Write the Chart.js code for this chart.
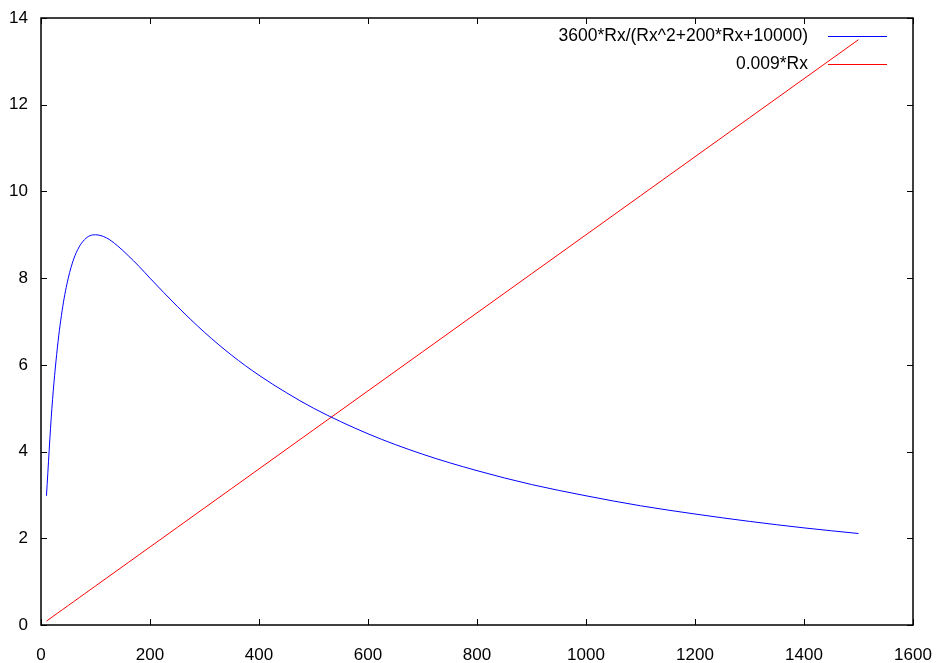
<!DOCTYPE html>
<html>
<head>
<meta charset="utf-8">
<script src="https://cdn.jsdelivr.net/npm/chart.js@4"></script>
<style>
  html, body { margin: 0; padding: 0; background: #fff; }
  #wrap { width: 938px; height: 663px; }
</style>
</head>
<body>
<div id="wrap"><canvas id="plot"></canvas></div>
<script>
// values
const rx = [10, 20, 30, 40, 50, 60, 70, 80, 90, 100, 120, 140, 160, 180, 200,
            250, 300, 350, 400, 450, 500, 600, 700, 800, 900, 1000, 1100, 1200, 1300, 1400, 1500];
const peakCurve = [2.98, 5.0, 6.39, 7.35, 8.0, 8.44, 8.72, 8.89, 8.98, 9.0, 8.93, 8.75, 8.52, 8.27, 8.0,
                   7.35, 6.75, 6.22, 5.76, 5.36, 5.0, 4.41, 3.94, 3.56, 3.24, 2.98, 2.75, 2.56, 2.39, 2.24, 2.11];
const lineCurve = [0.09, 0.18, 0.27, 0.36, 0.45, 0.54, 0.63, 0.72, 0.81, 0.9, 1.08, 1.26, 1.44, 1.62, 1.8,
                   2.25, 2.7, 3.15, 3.6, 4.05, 4.5, 5.4, 6.3, 7.2, 8.1, 9.0, 9.9, 10.8, 11.7, 12.6, 13.5];
const seriesNames = ['3600*Rx/(Rx^2+200*Rx+10000)', '0.009*Rx'];
const seriesColors = ['#0000ff', '#ff0000'];
const xTicks = [0, 200, 400, 600, 800, 1000, 1200, 1400, 1600];
const yTicks = [0, 2, 4, 6, 8, 10, 12, 14];

const font = '"Liberation Sans", Arial, Helvetica, sans-serif';

const pts = (ys) => rx.map((x, i) => ({ x: x, y: ys[i] }));

// gnuplot-style frame with inward ticks on all sides plus the key
const framePlugin = {
  id: 'frame',
  afterDraw(chart) {
    const ctx = chart.ctx;
    const a = chart.chartArea;
    const xs = chart.scales.x, ys = chart.scales.y;
    ctx.save();
    ctx.strokeStyle = '#000';
    ctx.lineWidth = 1.5;
    ctx.strokeRect(a.left, a.top, a.right - a.left, a.bottom - a.top);
    ctx.lineWidth = 1;
    ctx.beginPath();
    xTicks.forEach(v => {
      const p = Math.round(xs.getPixelForValue(v)) + 0.5;
      ctx.moveTo(p, a.bottom); ctx.lineTo(p, a.bottom - 6);
      ctx.moveTo(p, a.top); ctx.lineTo(p, a.top + 6);
    });
    yTicks.forEach(v => {
      const p = Math.round(ys.getPixelForValue(v)) + 0.5;
      ctx.moveTo(a.left, p); ctx.lineTo(a.left + 6, p);
      ctx.moveTo(a.right, p); ctx.lineTo(a.right - 6, p);
    });
    ctx.stroke();

    // key
    ctx.font = '17.5px ' + font;
    ctx.textAlign = 'right';
    ctx.textBaseline = 'middle';
    chart.data.datasets.forEach((ds, i) => {
      const y = 36 + i * 28;
      ctx.fillStyle = '#000';
      ctx.fillText(ds.label, 808, y);
      ctx.strokeStyle = ds.borderColor;
      ctx.beginPath();
      ctx.moveTo(828, y + 0.5);
      ctx.lineTo(887, y + 0.5);
      ctx.stroke();
    });
    ctx.restore();
  }
};

new Chart(document.getElementById('plot'), {
  type: 'line',
  data: {
    datasets: [
      { label: seriesNames[0], data: pts(peakCurve), borderColor: seriesColors[0], borderWidth: 1, pointRadius: 0, cubicInterpolationMode: 'monotone', fill: false },
      { label: seriesNames[1], data: pts(lineCurve), borderColor: seriesColors[1], borderWidth: 1, pointRadius: 0, fill: false }
    ]
  },
  options: {
    responsive: true,
    maintainAspectRatio: false,
    animation: false,
    layout: { padding: { top: 18, right: 25, left: 0, bottom: 0 } },
    plugins: { legend: { display: false }, tooltip: { enabled: false } },
    scales: {
      x: {
        type: 'linear',
        min: 0, max: 1600,
        afterBuildTicks: s => { s.ticks = xTicks.map(v => ({ value: v })); },
        afterFit: s => { s.height = 38; s.paddingLeft = 0; s.paddingRight = 0; },
        grid: { display: false, drawTicks: false },
        border: { display: false },
        ticks: { color: '#000', font: { family: font, size: 17 }, padding: 20, maxRotation: 0, callback: v => String(v) }
      },
      y: {
        type: 'linear',
        min: 0, max: 14,
        afterBuildTicks: s => { s.ticks = yTicks.map(v => ({ value: v })); },
        afterFit: s => { s.width = 41; s.paddingTop = 0; s.paddingBottom = 0; },
        grid: { display: false, drawTicks: false },
        border: { display: false },
        ticks: { color: '#000', font: { family: font, size: 17 }, padding: 13, callback: v => String(v) }
      }
    }
  },
  plugins: [framePlugin]
});
</script>
</body>
</html>
